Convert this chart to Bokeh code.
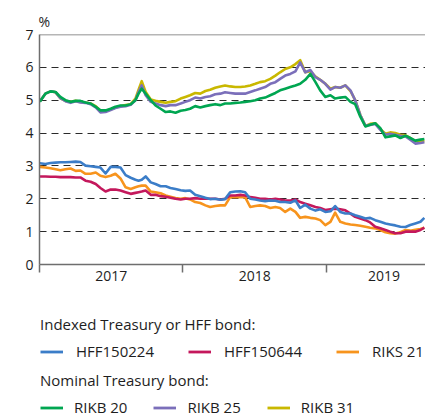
import pandas as pd
from bokeh.plotting import figure
from bokeh.layouts import column
from bokeh.models import Range1d, FixedTicker, Legend, LegendItem, Span
from bokeh.embed import file_html
from bokeh.resources import INLINE

# ---------------- data ----------------
dates = [
    "2017-01-02", "2017-01-16", "2017-01-29", "2017-02-11", "2017-02-23", "2017-03-08", "2017-03-21", "2017-04-03", "2017-04-15", "2017-04-28",
    "2017-05-11", "2017-05-24", "2017-06-05", "2017-06-18", "2017-07-01", "2017-07-13", "2017-07-26", "2017-08-08", "2017-08-21", "2017-09-02",
    "2017-09-10", "2017-09-18", "2017-09-28", "2017-10-11", "2017-10-23", "2017-11-05", "2017-11-18", "2017-11-30", "2017-12-13", "2017-12-26",
    "2018-01-07", "2018-01-19", "2018-02-01", "2018-02-14", "2018-02-27", "2018-03-11", "2018-03-24", "2018-04-06", "2018-04-18", "2018-05-01",
    "2018-05-14", "2018-05-27", "2018-06-08", "2018-06-21", "2018-07-04", "2018-07-16", "2018-07-29", "2018-08-11", "2018-08-24", "2018-09-05",
    "2018-09-18", "2018-10-01", "2018-10-14", "2018-10-26", "2018-11-08", "2018-11-21", "2018-12-04", "2018-12-16", "2018-12-29", "2019-01-11",
    "2019-01-23", "2019-02-05", "2019-02-18", "2019-03-03", "2019-03-15", "2019-03-28", "2019-04-10", "2019-04-22", "2019-05-05", "2019-05-18",
    "2019-05-31", "2019-06-12", "2019-06-25", "2019-07-08", "2019-07-21", "2019-08-02", "2019-08-15", "2019-08-28", "2019-09-07",
]

hff150224 = [
    3.08, 3.06, 3.09, 3.10, 3.11, 3.11, 3.12, 3.13, 3.12, 3.01,
    2.99, 2.97, 2.95, 2.77, 2.97, 2.97, 2.95, 2.72, 2.64, 2.58,
    2.55, 2.58, 2.68, 2.50, 2.45, 2.38, 2.38, 2.33, 2.30, 2.26,
    2.24, 2.25, 2.12, 2.08, 2.03, 1.99, 2.00, 1.97, 1.99, 2.20,
    2.22, 2.23, 2.20, 2.00, 1.98, 1.95, 1.93, 1.95, 1.94, 1.90,
    1.90, 1.88, 1.95, 1.72, 1.82, 1.70, 1.64, 1.68, 1.60, 1.62,
    1.78, 1.60, 1.55, 1.55, 1.50, 1.45, 1.40, 1.42, 1.35, 1.30,
    1.25, 1.22, 1.19, 1.15, 1.14, 1.20, 1.25, 1.30, 1.42,
]
hff150644 = [
    2.68, 2.68, 2.67, 2.67, 2.66, 2.66, 2.66, 2.65, 2.65, 2.55,
    2.52, 2.45, 2.33, 2.22, 2.28, 2.28, 2.25, 2.20, 2.15, 2.18,
    2.20, 2.22, 2.25, 2.12, 2.12, 2.08, 2.06, 2.03, 2.00, 1.98,
    2.00, 2.00, 2.02, 2.00, 2.00, 2.00, 2.00, 1.98, 2.00, 2.10,
    2.10, 2.12, 2.10, 2.05, 2.03, 2.00, 2.00, 1.98, 2.00, 1.98,
    1.95, 1.95, 1.98, 1.90, 1.85, 1.80, 1.75, 1.72, 1.66, 1.68,
    1.70, 1.68, 1.65, 1.55, 1.45, 1.40, 1.35, 1.28, 1.15, 1.10,
    1.05, 1.00, 0.95, 0.95, 1.00, 1.00, 1.00, 1.05, 1.12,
]
riks21 = [
    2.97, 2.95, 2.93, 2.90, 2.87, 2.90, 2.92, 2.85, 2.86, 2.76,
    2.76, 2.80, 2.70, 2.66, 2.70, 2.76, 2.62, 2.35, 2.30, 2.35,
    2.38, 2.40, 2.40, 2.22, 2.20, 2.17, 2.10, 2.06, 2.02, 2.00,
    2.02, 1.98, 1.90, 1.87, 1.80, 1.75, 1.78, 1.80, 1.80, 2.05,
    2.05, 2.05, 2.05, 1.75, 1.78, 1.80, 1.78, 1.72, 1.75, 1.72,
    1.60, 1.70, 1.60, 1.42, 1.45, 1.42, 1.40, 1.35, 1.20, 1.30,
    1.58, 1.30, 1.25, 1.22, 1.20, 1.18, 1.15, 1.12, 1.10, 1.05,
    0.98, 0.95, 0.94, 0.98, 1.05, 1.03, 1.06, 1.08, 1.12,
]
rikb20 = [
    4.95, 5.20, 5.27, 5.25, 5.10, 5.00, 4.95, 4.98, 4.98, 4.93,
    4.90, 4.80, 4.69, 4.69, 4.74, 4.80, 4.84, 4.84, 4.88, 5.00,
    5.20, 5.35, 5.20, 5.00, 4.84, 4.74, 4.64, 4.66, 4.62, 4.68,
    4.70, 4.74, 4.82, 4.78, 4.82, 4.85, 4.88, 4.85, 4.90, 4.90,
    4.92, 4.93, 4.95, 4.97, 5.00, 5.05, 5.08, 5.15, 5.22, 5.30,
    5.35, 5.40, 5.45, 5.50, 5.62, 5.80, 5.55, 5.30, 5.10, 5.15,
    5.05, 5.08, 5.10, 4.95, 4.88, 4.50, 4.20, 4.25, 4.30, 4.15,
    3.87, 3.90, 3.93, 3.85, 3.92, 3.85, 3.77, 3.80, 3.82,
]
rikb25 = [
    4.97, 5.20, 5.27, 5.24, 5.06, 4.97, 4.92, 4.97, 4.93, 4.92,
    4.88, 4.78, 4.63, 4.64, 4.70, 4.76, 4.80, 4.82, 4.86, 5.00,
    5.25, 5.45, 5.15, 4.95, 4.90, 4.85, 4.82, 4.85, 4.85, 4.90,
    4.95, 5.00, 5.08, 5.05, 5.10, 5.12, 5.18, 5.20, 5.24, 5.22,
    5.20, 5.20, 5.20, 5.25, 5.30, 5.35, 5.40, 5.50, 5.55, 5.65,
    5.75, 5.80, 5.88, 6.15, 5.85, 5.92, 5.70, 5.62, 5.50, 5.32,
    5.40, 5.38, 5.45, 5.30, 5.00, 4.55, 4.22, 4.25, 4.28, 4.10,
    3.95, 3.98, 3.95, 3.92, 3.90, 3.80, 3.68, 3.70, 3.72,
]
rikb31 = [
    4.97, 5.20, 5.27, 5.24, 5.06, 4.98, 4.95, 4.98, 4.95, 4.93,
    4.90, 4.82, 4.68, 4.68, 4.72, 4.78, 4.82, 4.85, 4.88, 5.05,
    5.32, 5.58, 5.25, 5.02, 4.98, 4.95, 4.92, 4.95, 4.97, 5.05,
    5.10, 5.15, 5.22, 5.20, 5.28, 5.32, 5.38, 5.42, 5.45, 5.42,
    5.40, 5.40, 5.42, 5.45, 5.50, 5.55, 5.58, 5.65, 5.75, 5.85,
    5.95, 6.00, 6.10, 6.22, 5.85, 5.88, 5.72, 5.62, 5.50, 5.35,
    5.40, 5.38, 5.45, 5.28, 5.00, 4.55, 4.22, 4.28, 4.30, 4.12,
    3.98, 4.02, 4.00, 3.95, 3.93, 3.85, 3.75, 3.75, 3.75,
]

year_ticks = [2017, 2018, 2019]
year_label_pos = [2017.5, 2018.5, 2019.4]
year_labels = ["2017", "2018", "2019"]
y_ticks = [0, 1, 2, 3, 4, 5, 6, 7]
grid_ticks = [1, 2, 3, 4, 5, 6]

legend1_title = "Indexed Treasury or HFF bond:"
legend2_title = "Nominal Treasury bond:"

# ---------------- helpers ----------------
def frac_year(s):
    t = pd.Timestamp(s)
    start = pd.Timestamp(year=t.year, month=1, day=1)
    end = pd.Timestamp(year=t.year + 1, month=1, day=1)
    return t.year + (t - start) / (end - start)

x = [frac_year(d) for d in dates]

FONT = "Open Sans"
TXT = "#1e1e1e"
AX = "#6e6e6e"

series = [
    ("RIKB 31", rikb31, "#c9b800"),
    ("RIKB 25", rikb25, "#7b6fba"),
    ("RIKB 20", rikb20, "#00a651"),
    ("RIKS 21", riks21, "#f7941d"),
    ("HFF150644", hff150644, "#c4185c"),
    ("HFF150224", hff150224, "#3b7dc8"),
]

# ---------------- chart ----------------
TOP_H = 300
p = figure(width=425, height=TOP_H, output_backend="svg", toolbar_location=None,
           x_range=Range1d(2017.0, 2019.69), y_range=Range1d(0, 7),
           min_border_left=39, min_border_right=0, min_border_top=34,
           min_border_bottom=TOP_H - 34 - 230, title="%")
p.title.text_font = FONT
p.title.text_font_size = "14px"
p.title.text_font_style = "normal"
p.title.text_color = TXT
p.title.align = "left"
p.title.offset = -1
p.title.standoff = 8

p.outline_line_color = None
p.background_fill_color = "white"
p.border_fill_color = "white"
p.xgrid.grid_line_color = None
p.ygrid.ticker = FixedTicker(ticks=grid_ticks)
p.ygrid.grid_line_color = "#2a2a2a"
p.ygrid.grid_line_dash = "7 5"
p.ygrid.grid_line_width = 1

xa = p.xaxis[0]
xa.ticker = FixedTicker(ticks=year_label_pos, minor_ticks=year_ticks)
xa.major_label_overrides = {pos: lab for pos, lab in zip(year_label_pos, year_labels)}
xa.major_tick_out = 0
xa.major_tick_in = 0
xa.minor_tick_out = 8
xa.minor_tick_in = 0
xa.minor_tick_line_color = AX
xa.minor_tick_line_width = 1.5
xa.axis_line_color = AX
xa.axis_line_width = 1.5
xa.major_label_text_font = FONT
xa.major_label_text_font_size = "14px"
xa.major_label_text_color = TXT
xa.major_label_standoff = -2

ya = p.yaxis[0]
ya.ticker = FixedTicker(ticks=y_ticks)
ya.major_tick_out = 0
ya.major_tick_in = 0
ya.minor_tick_line_color = None
ya.axis_line_color = AX
ya.axis_line_width = 1.5
ya.major_label_text_font = FONT
ya.major_label_text_font_size = "14px"
ya.major_label_text_color = TXT
ya.major_label_standoff = 6

p.add_layout(Span(location=7, dimension="width", line_color=AX, line_width=1.5))

for name, vals, col in series:
    p.line(x, vals, line_color=col, line_width=2.6, line_join="round")

# ---------------- legend panel ----------------
LEG_H = 417 - TOP_H
q = figure(width=425, height=LEG_H, output_backend="svg", toolbar_location=None,
           x_range=Range1d(0, 1), y_range=Range1d(0, 1),
           min_border_left=0, min_border_right=0, min_border_top=0, min_border_bottom=0)
q.axis.visible = False
q.grid.visible = False
q.outline_line_color = None
q.background_fill_color = "white"
q.border_fill_color = "white"

rends = {}
for name, vals, col in series:
    # same series; the legend panel's ranges keep them out of view, only the key glyphs show
    rends[name] = q.line(x, vals, line_color=col, line_width=2.8)

def make_legend(title, names, loc, standoff, spacing):
    lg = Legend(items=[LegendItem(label=n, renderers=[rends[n]]) for n in names],
                location=loc, orientation="horizontal", title=title)
    lg.border_line_color = None
    lg.background_fill_alpha = 0
    lg.padding = 0
    lg.margin = 0
    lg.glyph_width = 23
    lg.glyph_height = 17
    lg.label_height = 17
    lg.label_standoff = standoff
    lg.spacing = spacing
    lg.title_text_font = FONT
    lg.title_text_font_size = "15px"
    lg.title_text_font_style = "normal"
    lg.title_text_color = TXT
    lg.title_standoff = 7
    lg.label_text_font = FONT
    lg.label_text_font_size = "15px"
    lg.label_text_color = TXT
    return lg

q.add_layout(make_legend(legend1_title, ["HFF150224", "HFF150644", "RIKS 21"], (1, 56), 13, 34))
q.add_layout(make_legend(legend2_title, ["RIKB 20", "RIKB 25", "RIKB 31"], (1, 0), 11, 26))

open("out.html", "w").write(file_html(column(p, q, spacing=0), INLINE))
